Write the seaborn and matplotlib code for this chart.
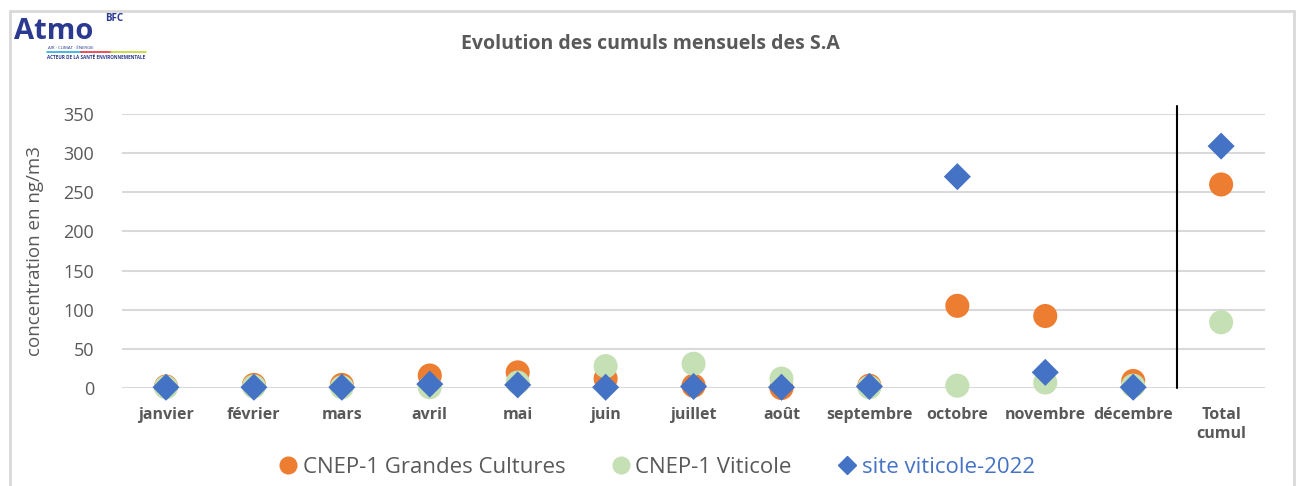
import numpy as np
import pandas as pd
import matplotlib.pyplot as plt
from matplotlib.lines import Line2D
import seaborn as sns

# données (ng/m3)
mois = ['janvier', 'février', 'mars', 'avril', 'mai', 'juin', 'juillet', 'août',
        'septembre', 'octobre', 'novembre', 'décembre', 'Total\ncumul']
grandes_cultures = [2, 4, 4, 16, 20, 12, 3, 0, 3, 105, 92, 9, 260]
viticole = [1, 2, 1, 1, 7, 28, 31, 12, 1, 3, 7, 3, 84]
site_viticole = [1, 1, 1, 5, 4, 1, 2, 1, 2, 270, 20, 1, 309]

series = ['CNEP-1 Grandes Cultures', 'CNEP-1 Viticole', 'site viticole-2022']
couleurs = ['#ED7D31', '#C5E0B4', '#4472C4']
marqueurs = ['o', 'o', 'D']

df = pd.DataFrame({'mois': mois * 3,
                   'valeur': grandes_cultures + viticole + site_viticole,
                   'serie': np.repeat(series, len(mois))})
df['x'] = np.tile(np.arange(len(mois)), 3)

sns.set_style('white')
plt.rcParams['font.family'] = ['Open Sans', 'DejaVu Sans']

fig = plt.figure(figsize=(13.01, 4.86), dpi=100)
ax = fig.add_axes([0.0938, 0.2016, 0.8786, 0.5638])

for nom, coul, mk in zip(series, couleurs, marqueurs):
    sub = df[df['serie'] == nom]
    sns.scatterplot(data=sub, x='x', y='valeur', ax=ax, color=coul, marker=mk,
                    s=300 if mk == 'o' else 190, edgecolor='none', clip_on=False,
                    zorder=3, legend=False)

ax.set_xlim(-0.5, len(mois) - 0.5)
ax.set_ylim(0, 350)
ax.set_yticks(range(0, 351, 50))
ax.set_xticks(range(len(mois)))
ax.set_xticklabels(mois, fontsize=11.5, fontweight='bold', color='#595959')
ax.tick_params(axis='y', labelsize=13, labelcolor='#595959', length=0, pad=20)
ax.tick_params(axis='x', length=0, pad=14)
ax.set_xlabel('')
ax.set_ylabel('concentration en ng/m3', fontsize=13.5, color='#595959', labelpad=14)
ax.grid(axis='y', color='#D9D9D9', lw=1.5)
ax.set_axisbelow(True)
for sp in ax.spines.values():
    sp.set_visible(False)

# séparateur total
ax.plot([11.5, 11.5], [0, 360], color='black', lw=1.5, clip_on=False, zorder=2)

fig.text(0.5, 0.91, 'Evolution des cumuls mensuels des S.A', ha='center', va='center',
         fontsize=14, fontweight='bold', color='#595959')

# cadre
fig.add_artist(Line2D([0.008, 0.008], [0, 0.978], color='#D9D9D9', lw=2))
fig.add_artist(Line2D([0.995, 0.995], [0, 0.978], color='#D9D9D9', lw=2))
fig.add_artist(Line2D([0.008, 0.995], [0.978, 0.978], color='#D9D9D9', lw=2))

# logo
fig.text(0.011, 0.935, 'Atmo', fontsize=21, fontweight='bold', color='#2B3990',
         ha='left', va='center')
fig.text(0.081, 0.962, 'BFC', fontsize=7, fontweight='bold', color='#2B3990',
         ha='left', va='center')
fig.add_artist(Line2D([0.036, 0.062], [0.893, 0.893], color='#29ABE2', lw=1.2))
fig.add_artist(Line2D([0.062, 0.085], [0.893, 0.893], color='#E8343D', lw=1.2))
fig.add_artist(Line2D([0.085, 0.112], [0.893, 0.893], color='#C6D530', lw=1.2))
fig.text(0.037, 0.902, 'AIR · CLIMAT · ÉNERGIE', fontsize=3.2, color='#2B3990', ha='left',
         va='center')
fig.text(0.036, 0.881, 'ACTEUR DE LA SANTÉ ENVIRONNEMENTALE', fontsize=3.3,
         fontweight='bold', color='#2B3990', ha='left', va='center')

# légende
handles = [Line2D([], [], ls='none', marker=m, color=c, markersize=12 if m == 'o' else 9)
           for c, m in zip(couleurs, marqueurs)]
leg = fig.legend(handles, series, loc='center', bbox_to_anchor=(0.505, 0.038), ncol=3,
                 frameon=False, fontsize=16, handletextpad=0.25, columnspacing=2.1,
                 handlelength=0.8)
for t, c in zip(leg.get_texts(), ['#595959', '#595959', '#4472C4']):
    t.set_color(c)

fig.savefig('out.png', dpi=100)
